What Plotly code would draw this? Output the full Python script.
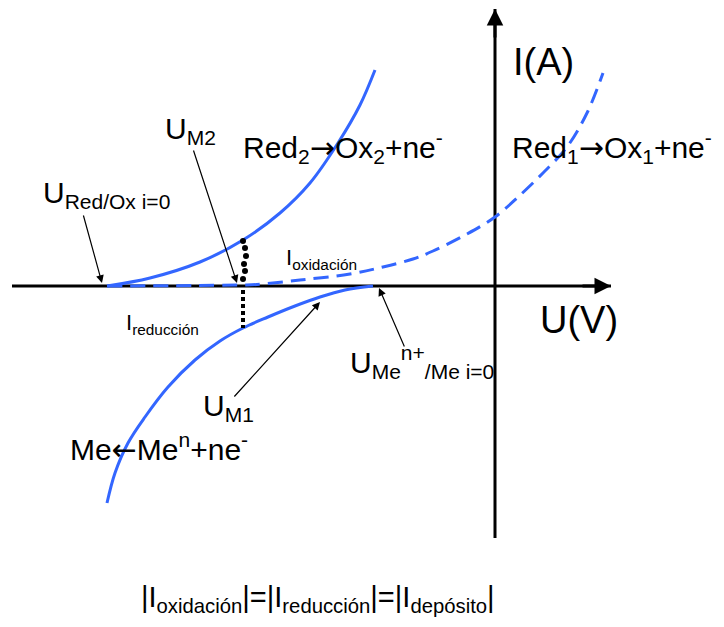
import plotly.graph_objects as go

# picture scale: origin of the U/I axes (page pixels) and pixels per unit
X0, Y0, S = 495, 286, 100
# the page body has an 8px margin, so the figure starts at (8, 8)
PAD = 8
W, H = 724 - PAD, 627 - PAD


def P(px, py):
    return (px - X0) / S, (Y0 - py) / S


# oxidation curve of Red2 (solid, upper left)
red2_u = [-3.88, -3.45, -2.95, -2.52, -2.15, -1.85, -1.57, -1.35, -1.20]
red2_i = [0.00, 0.08, 0.24, 0.46, 0.73, 1.03, 1.43, 1.81, 2.16]

# oxidation curve of Red1 (dashed)
red1_u = [-3.88, -2.52, -2.38, -1.95, -1.45, -1.12, -0.82, -0.62, -0.28, 0.00, 0.22, 0.48, 0.72, 0.92, 1.08]
red1_i = [0.00, 0.01, 0.015, 0.06, 0.12, 0.19, 0.27, 0.35, 0.52, 0.69, 0.88, 1.13, 1.39, 1.73, 2.13]

# reduction curve Me <- Me(n+) (solid, lower)
me_u = [-1.22, -1.50, -1.75, -2.00, -2.27, -2.52, -2.75, -3.00, -3.27, -3.50, -3.67, -3.80, -3.88]
me_i = [0.00, -0.04, -0.11, -0.20, -0.31, -0.42, -0.55, -0.74, -1.01, -1.31, -1.57, -1.87, -2.17]

# I oxidacion marker column at U_M2
ox_u = [-2.52, -2.50, -2.49, -2.51, -2.50, -2.52]
ox_i = [0.45, 0.38, 0.30, 0.22, 0.15, 0.07]

# I reduccion dotted segment at U_M2
red_u = [-2.52, -2.52]
red_i = [-0.04, -0.42]

# axis extents
u_axis = [-4.83, 1.16]
i_axis = [-2.52, 2.77]

FONT = "Arial, Liberation Sans, sans-serif"
BLUE = "#3366ff"
ARROW_R = '<span style="font-family:DejaVu Sans">→</span>'
ARROW_L = '<span style="font-family:DejaVu Sans">←</span>'

fig = go.Figure()

# axes (drawn under the curves)
fig.add_trace(go.Scatter(x=u_axis, y=[0, 0], mode="lines",
                         line=dict(color="black", width=3), hoverinfo="skip"))
fig.add_trace(go.Scatter(x=[0, 0], y=i_axis, mode="lines",
                         line=dict(color="black", width=3), hoverinfo="skip"))

fig.add_trace(go.Scatter(x=red1_u, y=red1_i, mode="lines", line_shape="spline",
                         line=dict(color=BLUE, width=3, dash="15px,8px")))
fig.add_trace(go.Scatter(x=red2_u, y=red2_i, mode="lines", line_shape="spline",
                         line=dict(color=BLUE, width=3)))
fig.add_trace(go.Scatter(x=me_u, y=me_i, mode="lines", line_shape="spline",
                         line=dict(color=BLUE, width=3)))
fig.add_trace(go.Scatter(x=ox_u, y=ox_i, mode="markers",
                         marker=dict(color="black", size=6)))
fig.add_trace(go.Scatter(x=red_u, y=red_i, mode="lines",
                         line=dict(color="black", width=4, dash="4px,3px")))

ann = []

# axis arrow heads
ann.append(dict(x=u_axis[1], y=0, ax=u_axis[1] - 0.3, ay=0, xref="x", yref="y",
                axref="x", ayref="y", text="", showarrow=True, arrowhead=2,
                arrowwidth=3, arrowsize=1.1, arrowcolor="black"))
ann.append(dict(x=0, y=i_axis[1], ax=0, ay=i_axis[1] - 0.3, xref="x", yref="y",
                axref="x", ayref="y", text="", showarrow=True, arrowhead=2,
                arrowwidth=3, arrowsize=1.1, arrowcolor="black"))

# thin pointer arrows: (tail px, head px)
pointers = [((83, 214), (102, 283)),
            ((193, 149), (237, 283)),
            ((233, 398), (320, 302)),
            ((405, 348), (379, 288))]
for (tx, ty), (hx, hy) in pointers:
    hu, hi = P(hx, hy)
    tu, ti = P(tx, ty)
    ann.append(dict(x=hu, y=hi, ax=tu, ay=ti, xref="x", yref="y", axref="x",
                    ayref="y", text="", showarrow=True, arrowhead=2,
                    arrowwidth=1.2, arrowsize=1.3, arrowcolor="black"))


def label(px, py, text, size):
    u, i = P(px, py)
    ann.append(dict(x=u, y=i, xref="x", yref="y", text=text, showarrow=False,
                    xanchor="left", yanchor="middle",
                    font=dict(family=FONT, size=size, color="black")))


label(511, 62, "I(A)", 38)
label(538, 320, "U(V)", 38)
label(241, 147, "Red<sub>2</sub>" + ARROW_R + "Ox<sub>2</sub>+ne<sup>-</sup>", 30)
label(510, 147, "Red<sub>1</sub>" + ARROW_R + "Ox<sub>1</sub>+ne<sup>-</sup>", 30)
label(163, 130, "U<sub>M2</sub>", 30)
label(41, 194, "U<sub>Red/Ox i=0</sub>", 30)
label(284, 259, "I<sub>oxidación</sub>", 22)
label(124, 324, "I<sub>reducción</sub>", 22)
label(201, 407, "U<sub>M1</sub>", 30)
label(348, 362, "U<sub>Me</sub><sup>n+</sup><sub>/Me i=0</sub>", 30)
label(68, 447, "Me" + ARROW_L + "Me<sup>n</sup>+ne<sup>-</sup>", 30)
label(139, 599, "|I<sub>oxidación</sub>|=|I<sub>reducción</sub>|=|I<sub>depósito</sub>|", 29)

x_lo, y_hi = P(PAD, PAD)
x_hi, y_lo = P(724, 627)

fig.update_layout(
    width=W, height=H,
    margin=dict(l=0, r=0, t=0, b=0),
    showlegend=False,
    plot_bgcolor="white", paper_bgcolor="white",
    xaxis=dict(range=[x_lo, x_hi], visible=False, fixedrange=True),
    yaxis=dict(range=[y_lo, y_hi], visible=False, fixedrange=True),
    annotations=ann,
)

fig.write_html("out.html")
